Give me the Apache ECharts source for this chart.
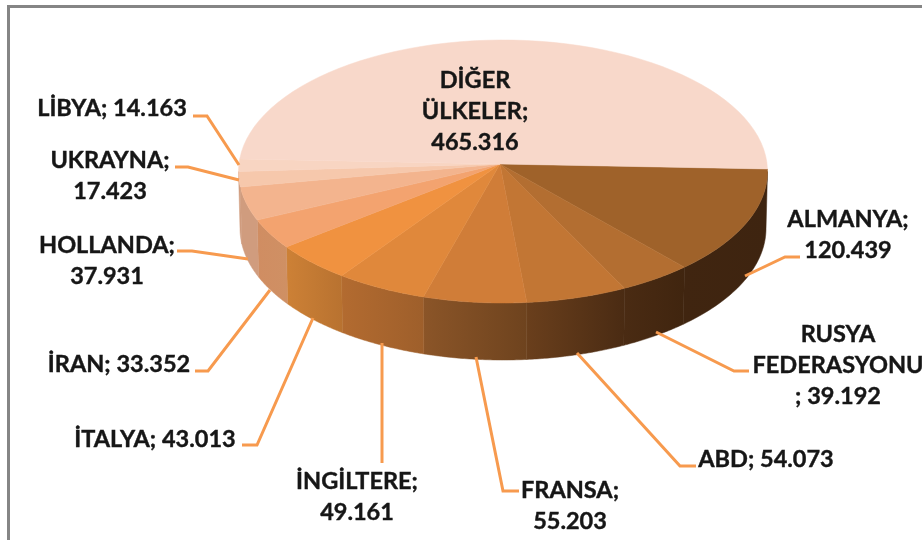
<!DOCTYPE html>
<html>
<head>
<meta charset="utf-8">
<style>html,body{margin:0;padding:0;background:#fff}#main{width:922px;height:540px}</style>
<script src="https://cdn.jsdelivr.net/npm/echarts@6/dist/echarts.min.js"></script>
</head>
<body>
<div id="main"></div>
<script>
var categories = ['ALMANYA', 'RUSYA\nFEDERASYONU', 'ABD', 'FRANSA', 'İNGİLTERE', 'İTALYA', 'İRAN', 'HOLLANDA', 'UKRAYNA', 'LİBYA', 'DİĞER\nÜLKELER'];
var values = [120439, 39192, 54073, 55203, 49161, 43013, 33352, 37931, 17423, 14163, 465316];

// styles per slice, same order as categories
var topColors = ['#9F622A', '#B36E31', '#C27634', '#D07D38', '#E0883B', '#F09240', '#F3A36F', '#F3B48E', '#F6C8AC', '#F8D5C2', '#F8D8CA'];
var sideColors = [['#402510', '#3E2410'], ['#4A2B13', '#40250F'], ['#6A3F1C', '#4A2B13'], ['#8B5528', '#6E431E'], ['#B36B30', '#9E5F2B'], ['#CD8136', '#B87230'], ['#D08D62', '#CF9064'], ['#D09C7E', '#D09C7E'], ['#D09C7E', '#D09C7E'], ['#D09C7E', '#D09C7E'], ['#402510', '#402510']];

// label layout: template, centre, leader line
var labelTpl = ['{n};\n{v}', '{n}\n; {v}', '{n}; {v}', '{n};\n{v}', '{n};\n{v}', '{n}; {v}', '{n}; {v}', '{n};\n{v}', '{n};\n{v}', '{n}; {v}', '{n};\n{v}'];
var labelPos = [[848, 235], [838, 365], [766, 459], [570, 506], [357, 497], [155, 439], [119, 364], [107, 261], [110, 176], [112, 108], [475, 111]];
var leaders = [
  [[800, 257], [785, 257], [745, 276]],
  [[749, 371], [734, 371], [656, 332]],
  [[696, 466], [680, 466], [577, 353]],
  [[519, 491], [503, 491], [476, 357]],
  [[382, 463], [382, 343]],
  [[242, 445], [257, 445], [313, 318]],
  [[195, 371], [208, 371], [270, 290]],
  [[177, 251], [192, 251], [248, 259]],
  [[175, 167], [188, 167], [239, 180]],
  [[193, 116], [207, 116], [239, 165]],
  null
];

var total = values.reduce(function (a, b) { return a + b; }, 0);
var cx = 503, cy = 171.5, rx = 264.5, ry = 131.5;
var apex = [500, 164];
var depth = 57, rxBottom = 263;
var startDeg = 2.34, skew = 0.03;

// true angle -> angle on the drawn ellipse, back half looks squeezed
function rimAngle(deg) {
  var a = deg * Math.PI / 180;
  var c = Math.cos(a), s = Math.sin(a);
  var t = Math.atan2(s - skew, c) - Math.atan2(skew * c, 1 - skew * s);
  if (t < -Math.PI / 2) t += Math.PI * 2;
  return t;
}

function fmt(v) {
  return String(v).replace(/\B(?=(\d{3})+$)/g, '.');
}

function renderItem(params, api) {
  var i = params.dataIndex;
  var before = 0;
  for (var k = 0; k < i; k++) before += values[k];
  var a0 = startDeg + before / total * 360;
  var a1 = a0 + api.value(1) / total * 360;
  var t0 = rimAngle(a0), t1 = rimAngle(a1);
  if (t1 < t0) t1 += Math.PI * 2;

  var pts = [apex], steps = 60, j, t;
  for (j = 0; j <= steps; j++) {
    t = t0 + (t1 - t0) * j / steps;
    pts.push([cx + rx * Math.cos(t), cy + ry * Math.sin(t)]);
  }

  var children = [];

  // wall, only the part in front
  var w0 = Math.max(t0, 0), w1 = Math.min(t1, Math.PI);
  if (w1 > w0) {
    var wall = [], back = [];
    for (j = 0; j <= 40; j++) {
      t = w0 + (w1 - w0) * j / 40;
      wall.push([cx + rx * Math.cos(t), cy + ry * Math.sin(t)]);
      back.unshift([cx + rxBottom * Math.cos(t), cy + depth + ry * Math.sin(t)]);
    }
    var fill = new echarts.graphic.LinearGradient(0, 0, 1, 0, [
      { offset: 0, color: sideColors[i][0] },
      { offset: 1, color: sideColors[i][1] }
    ]);
    children.push({
      type: 'polygon',
      shape: { points: wall.concat(back) },
      style: { fill: fill, stroke: fill, lineWidth: 0.5 }
    });
  }

  children.push({
    type: 'polygon',
    shape: { points: pts },
    style: { fill: topColors[i], stroke: topColors[i], lineWidth: 0.5 }
  });

  if (leaders[i]) {
    children.push({
      type: 'polyline',
      shape: { points: leaders[i] },
      style: { fill: null, stroke: '#F79A4E', lineWidth: 3 }
    });
  }

  children.push({
    type: 'text',
    style: {
      x: labelPos[i][0],
      y: labelPos[i][1],
      text: labelTpl[i].replace('{n}', categories[i]).replace('{v}', fmt(api.value(1))),
      align: 'center',
      verticalAlign: 'middle',
      fill: '#161616',
      stroke: '#161616',
      lineWidth: 0.4,
      fontFamily: 'Lato',
      fontWeight: 'bold',
      fontSize: 23.5,
      lineHeight: 31
    }
  });

  return { type: 'group', children: children };
}

var chart = echarts.init(document.getElementById('main'), null, { renderer: 'canvas' });
chart.setOption({
  backgroundColor: '#ffffff',
  animation: false,
  graphic: [{
    type: 'polyline',
    shape: { points: [[8.5, 540], [8.5, 6.5], [922, 6.5]] },
    style: { fill: null, stroke: '#858585', lineWidth: 3 }
  }],
  series: [{
    type: 'custom',
    coordinateSystem: 'none',
    silent: true,
    renderItem: renderItem,
    data: values.map(function (v, i) { return [i, v]; })
  }]
});
</script>
</body>
</html>
